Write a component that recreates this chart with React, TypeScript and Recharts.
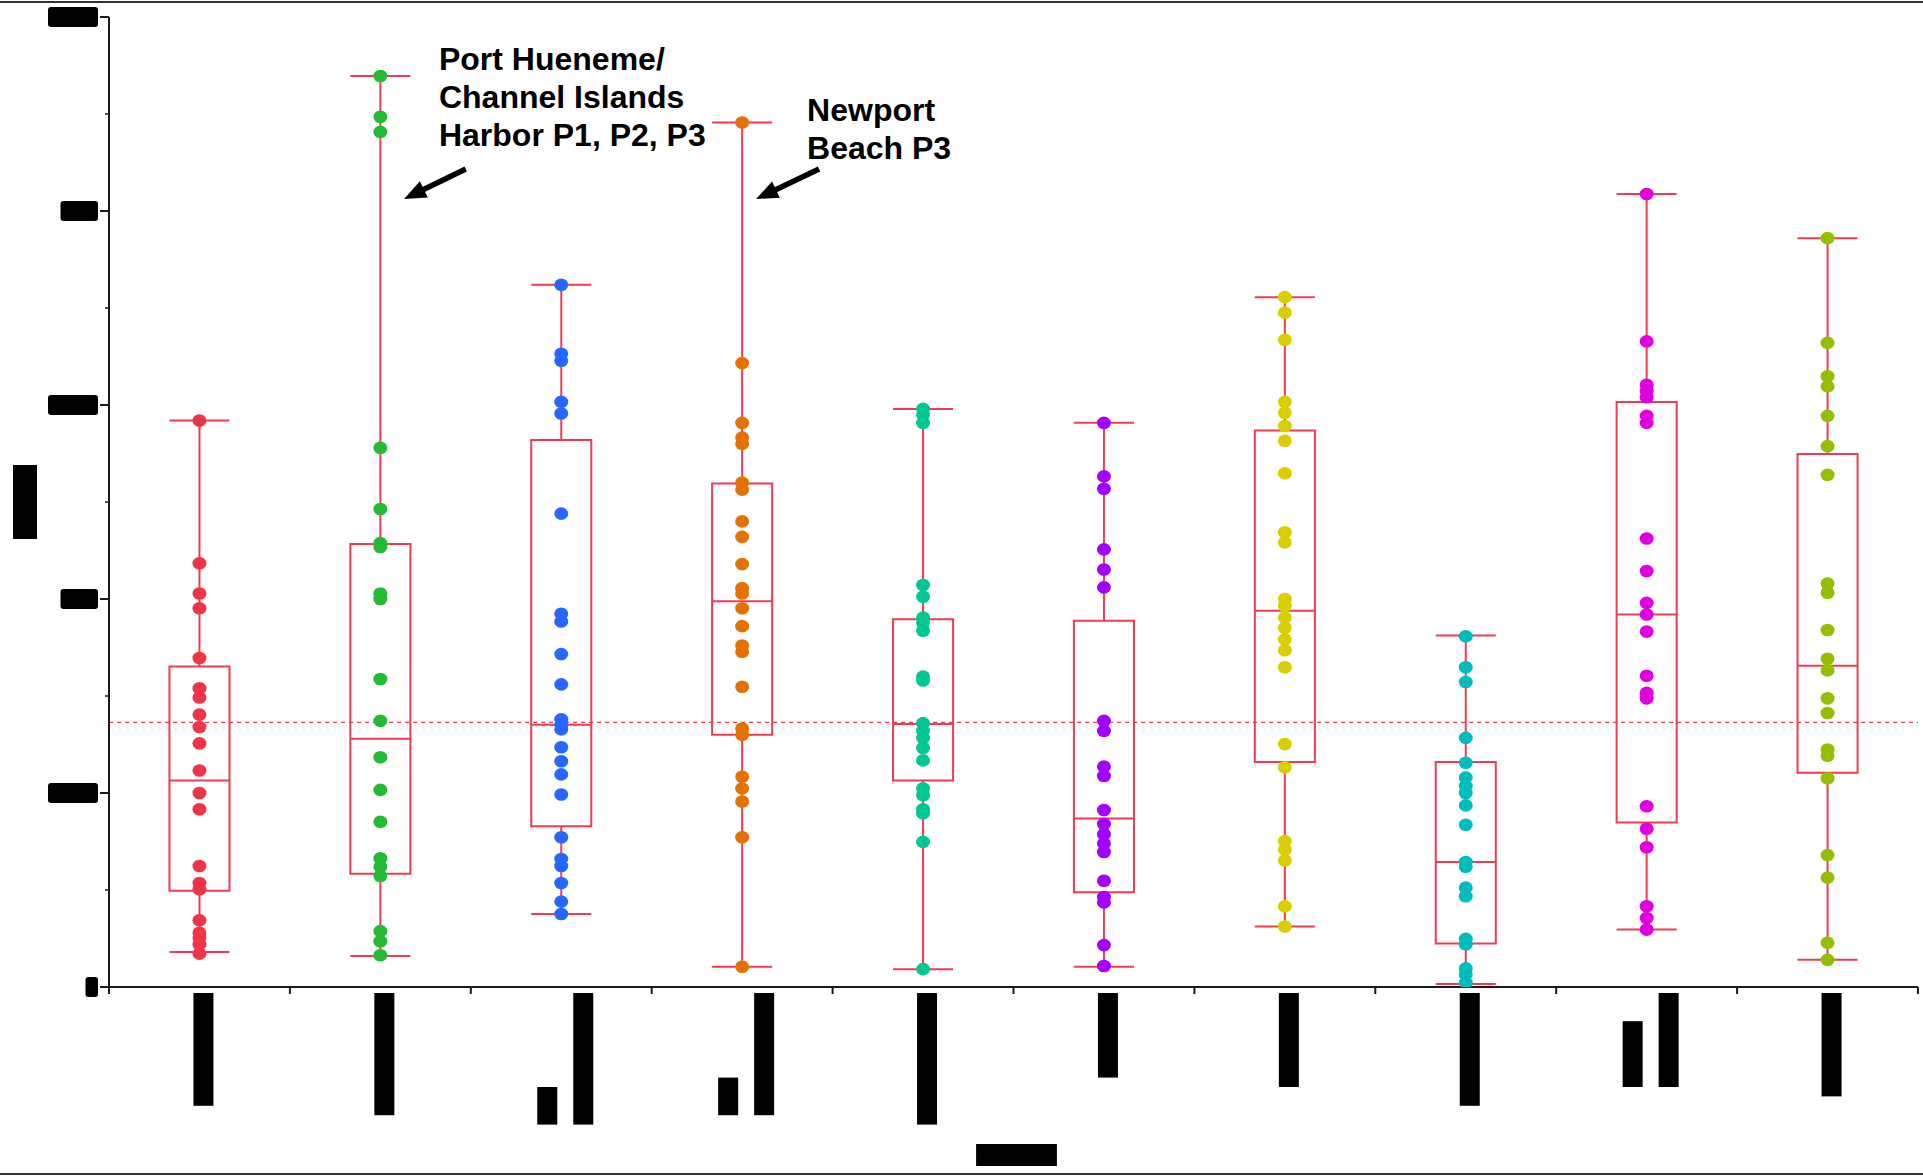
import React from 'react'
import {
  ComposedChart, XAxis, YAxis, Scatter, ReferenceLine, ReferenceArea, ReferenceDot,
} from 'recharts'

// category labels (one entry per line of the rotated label)
const X_LABELS: string[][] = [
  ['Santa Monica'],
  ['Ventura Coast'],
  ['Bays', 'Marina del Rey'],
  ['Open', 'Orange County'],
  ['San Diego Bays'],
  ['San Pedro'],
  ['Dana Point'],
  ['Laguna Beach'],
  ['Islands', 'Santa Cruz'],
  ['Ocean Beach'],
]

const Y_TICKS = [0, 0.125, 0.25, 0.375, 0.5, 0.625, 0.75, 0.875, 1, 1.125, 1.25]
const Y_LABELS = ['0', '0.25', '0.5', '0.75', '1.0', '1.25']
const Y_TITLE = 'Index'
const X_TITLE = 'Location'

// individual site values per group
const G1 = [0.730, 0.546, 0.507, 0.488, 0.424, 0.385, 0.373, 0.351, 0.335, 0.314, 0.279, 0.250, 0.229, 0.156, 0.134, 0.126, 0.086, 0.070, 0.063, 0.055, 0.043]
const G2 = [1.174, 1.1215, 1.102, 0.695, 0.616, 0.572, 0.567, 0.507, 0.500, 0.397, 0.343, 0.296, 0.254, 0.213, 0.166, 0.155, 0.143, 0.072, 0.059, 0.041]
const G3 = [0.905, 0.816, 0.807, 0.754, 0.739, 0.610, 0.481, 0.471, 0.429, 0.390, 0.345, 0.338, 0.332, 0.309, 0.291, 0.274, 0.248, 0.193, 0.165, 0.156, 0.134, 0.110, 0.094]
const G4 = [1.114, 0.804, 0.727, 0.708, 0.700, 0.650, 0.641, 0.600, 0.580, 0.545, 0.514, 0.507, 0.488, 0.465, 0.440, 0.432, 0.387, 0.333, 0.325, 0.271, 0.256, 0.239, 0.193, 0.026]
const G5 = [0.745, 0.737, 0.727, 0.518, 0.503, 0.476, 0.469, 0.459, 0.400, 0.395, 0.340, 0.330, 0.321, 0.308, 0.292, 0.256, 0.247, 0.229, 0.224, 0.187, 0.023]
const G6 = [0.727, 0.658, 0.642, 0.564, 0.538, 0.515, 0.343, 0.330, 0.284, 0.272, 0.228, 0.210, 0.197, 0.185, 0.174, 0.137, 0.116, 0.109, 0.054, 0.027]
const G7 = [0.889, 0.869, 0.834, 0.754, 0.740, 0.723, 0.704, 0.662, 0.586, 0.573, 0.500, 0.491, 0.476, 0.463, 0.448, 0.434, 0.412, 0.313, 0.283, 0.188, 0.177, 0.163, 0.104, 0.078]
const G8 = [0.452, 0.412, 0.393, 0.321, 0.289, 0.270, 0.259, 0.250, 0.234, 0.209, 0.161, 0.155, 0.128, 0.117, 0.062, 0.055, 0.024, 0.016, 0.006]
const G9 = [1.022, 0.832, 0.776, 0.768, 0.760, 0.736, 0.727, 0.578, 0.536, 0.495, 0.480, 0.458, 0.401, 0.379, 0.372, 0.233, 0.204, 0.180, 0.104, 0.089, 0.074]
const G10 = [0.965, 0.830, 0.787, 0.774, 0.736, 0.697, 0.660, 0.520, 0.508, 0.460, 0.423, 0.408, 0.372, 0.353, 0.306, 0.298, 0.269, 0.170, 0.141, 0.057, 0.035]
const GROUPS = [G1, G2, G3, G4, G5, G6, G7, G8, G9, G10]

// box plot statistics
const BOX_MAX = [0.730, 1.174, 0.905, 1.114, 0.745, 0.727, 0.889, 0.453, 1.022, 0.965]
const BOX_Q3 = [0.413, 0.571, 0.705, 0.649, 0.474, 0.472, 0.717, 0.290, 0.754, 0.687]
const BOX_MED = [0.266, 0.320, 0.338, 0.497, 0.339, 0.217, 0.485, 0.161, 0.480, 0.414]
const BOX_Q1 = [0.124, 0.146, 0.207, 0.325, 0.266, 0.122, 0.290, 0.056, 0.212, 0.276]
const BOX_MIN = [0.045, 0.040, 0.094, 0.026, 0.023, 0.026, 0.078, 0.004, 0.074, 0.035]

const OVERALL_MEDIAN = 0.341

// callouts
const CALLOUTS = [
  { x: 1.824, y: 1.182, lines: ['Port Hueneme/', 'Channel Islands', 'Harbor P1, P2, P3'] },
  { x: 3.859, y: 1.116, lines: ['Newport', 'Beach P3'] },
]
const ARROWS = [
  { from: { x: 1.972, y: 1.054 }, to: { x: 1.631, y: 1.0155 } },
  { from: { x: 3.925, y: 1.054 }, to: { x: 3.577, y: 1.0155 } },
]

const COLORS = ['#EE3548', '#22BB33', '#2668FF', '#E57200', '#00C890', '#A400FF', '#D9CF00', '#00BDBD', '#E000E0', '#94BF00']
const BOX_COLOR = '#F03C50'
const AXIS = '#1a1a1a'
const FONT = '"Liberation Sans", Arial, sans-serif'
const BOX_HALF = 0.166
const X_CHAR_W = 9.4
const X_TICKS = Array.from({ length: 21 }, (_, k) => k / 2)

function YTick({ x, y, payload }: any) {
  const v = payload.value
  const k = Math.round(v / 0.25)
  const major = Math.abs(v - k * 0.25) < 1e-9
  if (!major) return <line x1={x - 4} x2={x} y1={y} y2={y} stroke={AXIS} strokeWidth={1.5} />
  const label = Y_LABELS[k]
  const w = label.length * 12.5
  return (
    <g>
      <line x1={x - 9} x2={x} y1={y} y2={y} stroke={AXIS} strokeWidth={2} />
      <rect x={x - 11 - w} y={y - 10} width={w} height={20} rx={3} fill="#000" />
      <text
        x={x - 11 - w} y={y} dominantBaseline="central" fontFamily={FONT} fontWeight="bold"
        fontSize={17} fill="#000" textLength={w} lengthAdjust="spacingAndGlyphs"
      >{label}</text>
    </g>
  )
}

function XTick({ x, y, payload }: any) {
  const v = payload.value
  if (Number.isInteger(v)) {
    return <line x1={x} x2={x} y1={y} y2={y + 7} stroke={AXIS} strokeWidth={2} />
  }
  const lines = X_LABELS[Math.floor(v)] ?? []
  const lens = lines.map(l => l.length * X_CHAR_W)
  const bottom = y + 6 + Math.max(...lens)
  return (
    <g>
      {lines.map((l, j) => {
        const cx = x + 4 + (j - (lines.length - 1) / 2) * 36
        return (
          <g key={j}>
            <rect x={cx - 10} y={bottom - lens[j]} width={20} height={lens[j]} fill="#000" />
            <text
              x={cx} y={bottom} transform={`rotate(-90, ${cx}, ${bottom})`} textAnchor="start"
              dominantBaseline="central" fontFamily={FONT} fontWeight="bold" fontSize={17}
              fill="#000" textLength={lens[j]} lengthAdjust="spacingAndGlyphs"
            >{l}</text>
          </g>
        )
      })}
    </g>
  )
}

function YTitle({ viewBox }: any) {
  const cx = viewBox.x + 25
  const cy = viewBox.y + viewBox.height / 2
  const len = Y_TITLE.length * 14.8
  return (
    <g>
      <rect x={cx - 12} y={cy - len / 2} width={24} height={len} fill="#000" />
      <text
        x={cx} y={cy + len / 2} transform={`rotate(-90, ${cx}, ${cy + len / 2})`}
        dominantBaseline="central" fontFamily={FONT} fontWeight="bold" fontSize={20} fill="#000"
        textLength={len} lengthAdjust="spacingAndGlyphs"
      >{Y_TITLE}</text>
    </g>
  )
}

function XTitle({ viewBox }: any) {
  const cx = viewBox.x + viewBox.width / 2 + 3
  const cy = viewBox.y + 168
  const len = X_TITLE.length * 10.1
  return (
    <g>
      <rect x={cx - len / 2} y={cy - 11} width={len} height={22} fill="#000" />
      <text
        x={cx - len / 2} y={cy} dominantBaseline="central" fontFamily={FONT} fontWeight="bold"
        fontSize={20} fill="#000" textLength={len} lengthAdjust="spacingAndGlyphs"
      >{X_TITLE}</text>
    </g>
  )
}

function Arrow(p: any) {
  const { x1, y1, x2, y2 } = p
  const dx = x2 - x1
  const dy = y2 - y1
  const len = Math.hypot(dx, dy) || 1
  const ux = dx / len
  const uy = dy / len
  const hl = 22
  const hw = 9
  const bx = x2 - ux * hl
  const by = y2 - uy * hl
  return (
    <g>
      <line x1={x1} y1={y1} x2={bx + ux * 2} y2={by + uy * 2} stroke="#000" strokeWidth={5.5} />
      <polygon
        points={`${x2},${y2} ${bx - uy * hw},${by + ux * hw} ${bx + uy * hw},${by - ux * hw}`}
        fill="#000"
      />
    </g>
  )
}

function Callout({ cx, cy, lines }: any) {
  return (
    <text x={cx} y={cy} fontFamily={FONT} fontWeight="bold" fontSize={32} fill="#000">
      {lines.map((l: string, i: number) => (
        <tspan key={i} x={cx} dy={i === 0 ? 0 : 38}>{l}</tspan>
      ))}
    </text>
  )
}

export default function App() {
  const seriesData = GROUPS.map((vals, i) => vals.map(v => ({ x: i + 0.5, y: v })))
  const boxLine = { stroke: BOX_COLOR, strokeWidth: 2 }

  return (
    <div style={{ position: 'absolute', left: 0, top: 0, width: 1923, height: 1176, background: '#fff' }}>
      <div style={{ position: 'absolute', left: 0, top: 1, width: 1923, height: 2, background: '#333' }} />
      <div style={{ position: 'absolute', left: 0, top: 1173, width: 1923, height: 2, background: '#333' }} />
      <ComposedChart width={1923} height={1176} margin={{ top: 17, right: 5, bottom: 0, left: 0 }}>
        <XAxis
          xAxisId={0} dataKey="x" type="number" domain={[0, 10]} ticks={X_TICKS} interval={0}
          height={189} tickSize={0} tickMargin={0} tickLine={false} tick={(p: any) => <XTick {...p} />}
          axisLine={{ stroke: AXIS, strokeWidth: 2 }} allowDataOverflow
          label={{ content: (p: any) => <XTitle {...p} /> }}
        />
        <XAxis
          xAxisId="top" orientation="top" type="number" domain={[0, 10]} height={0}
          tick={false} tickLine={false} axisLine={{ stroke: AXIS, strokeWidth: 2 }}
        />
        <YAxis
          yAxisId={0} dataKey="y" type="number" domain={[0, 1.25]} ticks={Y_TICKS} interval={0}
          width={109} tickSize={0} tickMargin={0} tickLine={false} tick={(p: any) => <YTick {...p} />}
          axisLine={{ stroke: AXIS, strokeWidth: 2 }} allowDataOverflow
          label={{ content: (p: any) => <YTitle {...p} /> }}
        />
        <YAxis
          yAxisId="right" orientation="right" type="number" domain={[0, 1.25]} width={0}
          tick={false} tickLine={false} axisLine={{ stroke: AXIS, strokeWidth: 2 }}
        />

        <ReferenceLine y={OVERALL_MEDIAN} stroke="#F03C50" strokeWidth={1.2} strokeDasharray="4 4" />

        {BOX_MED.map((med, i) => {
          const c = i + 0.5
          return (
            <React.Fragment key={i}>
              <ReferenceLine segment={[{ x: c, y: BOX_MIN[i] }, { x: c, y: BOX_Q1[i] }]} {...boxLine} />
              <ReferenceLine segment={[{ x: c, y: BOX_Q3[i] }, { x: c, y: BOX_MAX[i] }]} {...boxLine} />
              <ReferenceLine segment={[{ x: c - BOX_HALF, y: BOX_MIN[i] }, { x: c + BOX_HALF, y: BOX_MIN[i] }]} {...boxLine} />
              <ReferenceLine segment={[{ x: c - BOX_HALF, y: BOX_MAX[i] }, { x: c + BOX_HALF, y: BOX_MAX[i] }]} {...boxLine} />
              <ReferenceArea
                x1={c - BOX_HALF} x2={c + BOX_HALF} y1={BOX_Q1[i]} y2={BOX_Q3[i]}
                fill="none" fillOpacity={0} stroke={BOX_COLOR} strokeWidth={2}
              />
              <ReferenceLine segment={[{ x: c - BOX_HALF, y: med }, { x: c + BOX_HALF, y: med }]} {...boxLine} />
            </React.Fragment>
          )
        })}

        {seriesData.map((d, i) => (
          <Scatter
            key={i}
            data={d}
            dataKey="y"
            fill={COLORS[i]}
            isAnimationActive={false}
            shape={(p: any) => <ellipse cx={p.cx} cy={p.cy} rx={7} ry={6.3} fill={COLORS[i]} />}
          />
        ))}

        {ARROWS.map((a, i) => (
          <ReferenceLine key={'arrow' + i} segment={[a.from, a.to]} shape={(p: any) => <Arrow {...p} />} />
        ))}
        {CALLOUTS.map((c, i) => (
          <ReferenceDot
            key={'callout' + i} x={c.x} y={c.y} r={0}
            shape={(p: any) => <Callout cx={p.cx} cy={p.cy} lines={c.lines} />}
          />
        ))}
      </ComposedChart>
    </div>
  )
}
